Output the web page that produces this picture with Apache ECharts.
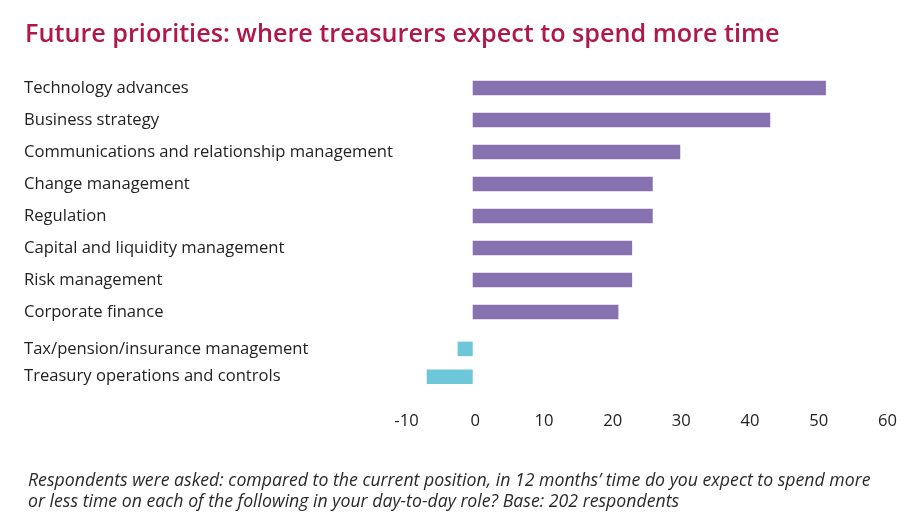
<!DOCTYPE html>
<html>
<head>
<meta charset="utf-8">
<script src="https://cdn.jsdelivr.net/npm/echarts@6/dist/echarts.min.js"></script>
<style>
html,body{margin:0;padding:0;background:#fff;}
#chart{width:921px;height:528px;}
</style>
</head>
<body>
<div id="chart"></div>
<script>
const titleText = 'Future priorities: where treasurers expect to spend more time';
const footnoteText = 'Respondents were asked: compared to the current position, in 12 months\u2019 time do you expect to spend more\nor less time on each of the following in your day-to-day role? Base: 202 respondents';

const moreCategories = ['Technology advances','Business strategy','Communications and relationship management','Change management','Regulation','Capital and liquidity management','Risk management','Corporate finance'];
const moreValues = [51.4, 43.3, 30.2, 26.2, 26.2, 23.2, 23.2, 21.2];

const lessCategories = ['Tax/pension/insurance management','Treasury operations and controls'];
const lessValues = [-2.2, -6.7];

const axisMin = -10, axisMax = 60, axisStep = 10;

const purple = '#8671b1';
const teal = '#6dc7d8';
const textColor = '#222222';
const font = 'Open Sans';

const gridLeft = 404, gridWidth = 481;
const labelMargin = gridLeft - 24;

function catAxis(gridIndex, cats) {
  return {
    type: 'category', gridIndex, data: cats, inverse: true,
    axisLine: {show:false}, axisTick: {show:false},
    axisLabel: {align:'left', margin: labelMargin, fontSize:16.6, color:textColor, fontFamily:font, padding:[7,0,0,0]}
  };
}
function valAxis(gridIndex, showLabels) {
  return {
    type: 'value', gridIndex, min: axisMin, max: axisMax, interval: axisStep,
    axisLine:{show:false}, axisTick:{show:false}, splitLine:{show:false},
    axisLabel:{show: showLabels, fontSize:16.6, color:textColor, fontFamily:font, margin:22, padding:[0,0,0,5]}
  };
}

const chart = echarts.init(document.getElementById('chart'), null, {renderer:'canvas'});
chart.setOption({
  animation: false,
  backgroundColor: '#ffffff',
  title: [
    {text: titleText, left: 20, top: 17, textStyle:{fontSize:25.2, fontWeight:600, color:'#b0174a', fontFamily:font}},
    {text: footnoteText, left: 23, top: 465, textStyle:{fontSize:17.7, fontWeight:'normal', fontStyle:'italic', color:'#2a2a2a', fontFamily:font, lineHeight:21}}
  ],
  grid: [
    {left: gridLeft, width: gridWidth, top: 72, height: 256},
    {left: gridLeft, width: gridWidth, top: 335, height: 55.5}
  ],
  xAxis: [valAxis(0,false), valAxis(1,true)],
  yAxis: [catAxis(0, moreCategories), catAxis(1, lessCategories)],
  series: [
    {type:'bar', xAxisIndex:0, yAxisIndex:0, data: moreValues, barWidth:14.5, itemStyle:{color:purple}},
    {type:'bar', xAxisIndex:1, yAxisIndex:1, data: lessValues, barWidth:14.5, itemStyle:{color:teal}}
  ]
});
</script>
</body>
</html>
